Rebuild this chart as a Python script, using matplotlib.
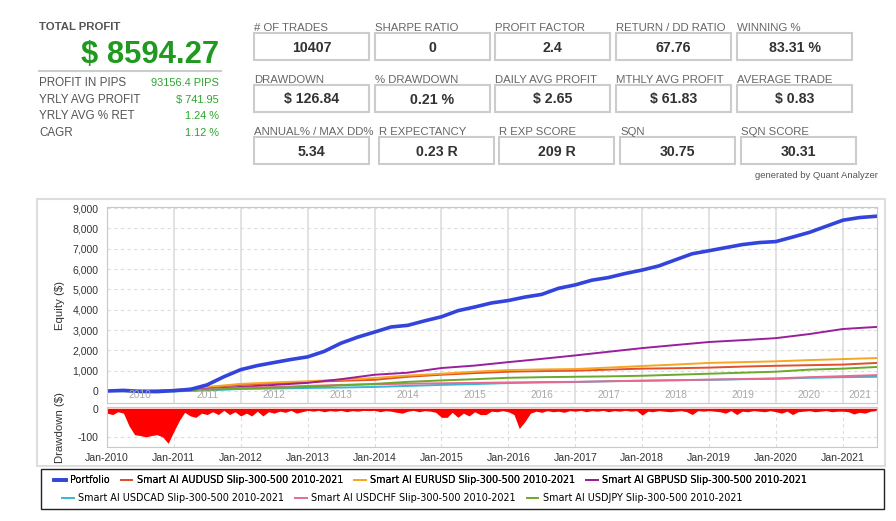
import matplotlib
matplotlib.use("Agg")
import matplotlib.pyplot as plt
from matplotlib.patches import Rectangle
from matplotlib.lines import Line2D
import pandas as pd

W, H = 896, 521
plt.rcParams['font.family'] = ['Liberation Sans', 'DejaVu Sans']

# ---- statistics ----
total_profit = "$ 8594.27"
summary_labels = ["PROFIT IN PIPS", "YRLY AVG PROFIT", "YRLY AVG % RET", "CAGR"]
summary_values = ["93156.4 PIPS", "$ 741.95", "1.24 %", "1.12 %"]

stat_labels = [
    ["# OF TRADES", "SHARPE RATIO", "PROFIT FACTOR", "RETURN / DD RATIO", "WINNING %"],
    ["DRAWDOWN", "% DRAWDOWN", "DAILY AVG PROFIT", "MTHLY AVG PROFIT", "AVERAGE TRADE"],
    ["ANNUAL% / MAX DD%", "R EXPECTANCY", "R EXP SCORE", "SQN", "SQN SCORE"],
]
stat_values = [
    ["10407", "0", "2.4", "67.76", "83.31 %"],
    ["$ 126.84", "0.21 %", "$ 2.65", "$ 61.83", "$ 0.83"],
    ["5.34", "0.23 R", "209 R", "30.75", "30.31"],
]

# ---- equity curves ----
quarters = pd.date_range("2010-01-01", "2021-07-01", freq="QS")
portfolio = [0, 30, -20, -30,
             20, 80, 300, 700,
             1050, 1250, 1400, 1550,
             1680, 1950, 2350, 2650,
             2900, 3150, 3230, 3450,
             3650, 3950, 4130, 4330,
             4450, 4620, 4750, 5050,
             5220, 5450, 5580, 5780,
             5950, 6150, 6450, 6750,
             6900, 7050, 7200, 7300,
             7350, 7570, 7800, 8100,
             8400, 8530, 8594]

halfyears = pd.date_range("2010-01-01", "2021-07-01", freq="6MS")
audusd = [0, 0, 20, 180, 300, 380, 450, 500, 550, 700, 800, 880,
          950, 980, 1000, 1050, 1100, 1120, 1150, 1200, 1240, 1270, 1300, 1380]
eurusd = [0, -10, 50, 200, 350, 420, 480, 560, 640, 760, 850, 950,
          1030, 1060, 1080, 1150, 1230, 1300, 1380, 1420, 1460, 1520, 1570, 1620]
gbpusd = [0, 10, 20, 100, 200, 300, 400, 580, 800, 900, 1130, 1250,
          1420, 1580, 1750, 1930, 2110, 2260, 2410, 2500, 2600, 2800, 3050, 3150]
usdcad = [0, -10, -20, 30, 100, 120, 150, 170, 200, 250, 300, 340,
          390, 420, 440, 480, 510, 530, 550, 580, 600, 650, 680, 700]
usdchf = [0, 10, 0, 80, 150, 200, 250, 300, 330, 360, 380, 400,
          420, 440, 450, 480, 500, 530, 560, 590, 620, 680, 730, 780]
usdjpy = [0, -20, -10, 60, 120, 160, 200, 280, 350, 450, 520, 580,
          650, 680, 700, 720, 750, 800, 850, 900, 950, 1050, 1100, 1180]

series_names = ["Portfolio",
                "Smart AI AUDUSD Slip-300-500 2010-2021",
                "Smart AI EURUSD Slip-300-500 2010-2021",
                "Smart AI GBPUSD Slip-300-500 2010-2021",
                "Smart AI USDCAD Slip-300-500 2010-2021",
                "Smart AI USDCHF Slip-300-500 2010-2021",
                "Smart AI USDJPY Slip-300-500 2010-2021"]
series_colors = ["#3344dd", "#e0502e", "#f5a623", "#9b1f9b", "#35b8d8", "#e8698f", "#6aaa2a"]

# ---- monthly drawdown ----
months = pd.date_range("2010-01-01", "2021-07-01", freq="MS")
drawdown = [-15, -20, -10, -15, -60, -92, -95, -100, -95, -92, -100, -123,
            -80, -40, -12, -25, -30, -15, -20, -10, -20, -5, -20, -10,
            -25, -15, -25, -8, -25, -10, -15, -8, -12, -5, -15, -10,
            -5, -8, -5, -10, -6, -8, -5, -10, -6, -8, -5, -6,
            -5, -10, -6, -8, -12, -15, -8, -5, -10, -6, -8, -12,
            -30, -30, -12, -30, -15, -25, -10, -20, -20, -8, -10, -6,
            -10, -20, -70, -45, -15, -8, -12, -6, -10, -8, -12, -6,
            -8, -5, -10, -6, -8, -5, -10, -6, -8, -5, -8, -6,
            -22, -8, -10, -6, -8, -10, -8, -6, -10, -20, -6, -8,
            -6, -8, -10, -15, -6, -20, -8, -10, -6, -8, -10, -6,
            -10, -15, -8, -20, -10, -8, -6, -10, -8, -6, -10, -8,
            -8, -10, -18, -12, -15, -8, -6]


def fx(x):
    return x / W


def fy(y):
    return 1 - y / H


fig = plt.figure(figsize=(W / 100, H / 100), dpi=100)

# ---- header: total profit block ----
fig.text(fx(39), fy(27), "TOTAL PROFIT", fontsize=8.2, fontweight="bold", color="#555555", va="center")
fig.text(fx(219), fy(55), total_profit, fontsize=22.3, fontweight="bold", color="#1f9a1f",
         ha="right", va="center")
fig.add_artist(Line2D([fx(39), fx(221)], [fy(71), fy(71)], color="#cccccc", lw=1.5))
for i, (lab, val) in enumerate(zip(summary_labels, summary_values)):
    yy = 83 + i * 16.7
    fig.text(fx(39), fy(yy), lab, fontsize=8.4, color="#555555", va="center")
    fig.text(fx(219), fy(yy), val, fontsize=7.9, color="#2aa52a", ha="right", va="center")

# ---- header: stat boxes ----
box_x = [[254, 375, 495, 616, 737], [254, 375, 495, 616, 737], [254, 379, 499, 620, 741]]
box_top = [33, 85, 137]
label_y = [28, 80, 132]
box_w, box_h = 115, 27
for r in range(3):
    for c in range(5):
        x0 = box_x[r][c]
        fig.text(fx(x0), fy(label_y[r]), stat_labels[r][c], fontsize=8.2, color="#666666", va="center")
        fig.add_artist(Rectangle((fx(x0), fy(box_top[r] + box_h)), box_w / W, box_h / H,
                                 transform=fig.transFigure, fill=False, ec="#cccccc", lw=1.5))
        fig.text(fx(x0 + box_w / 2), fy(box_top[r] + box_h / 2 + 1), stat_values[r][c],
                 fontsize=10.2, fontweight="bold", color="#333333", ha="center", va="center")
fig.text(fx(878), fy(175), "generated by Quant Analyzer", fontsize=6.8, color="#555555",
         ha="right", va="center")

# ---- chart panel border ----
fig.add_artist(Rectangle((fx(37), fy(466)), 848 / W, 267 / H, transform=fig.transFigure,
                         fill=False, ec="#dddddd", lw=1.5))

xmin = pd.Timestamp("2010-01-01")
xmax = pd.Timestamp("2021-07-06")
years = pd.date_range("2010-01-01", "2021-01-01", freq="YS")

# ---- equity axes ----
ax = fig.add_axes([fx(107), fy(403), 770 / W, 196 / H])
ax.plot(halfyears, audusd, color=series_colors[1], lw=1.4)
ax.plot(halfyears, eurusd, color=series_colors[2], lw=1.4)
ax.plot(halfyears, gbpusd, color=series_colors[3], lw=1.4)
ax.plot(halfyears, usdcad, color=series_colors[4], lw=1.4)
ax.plot(halfyears, usdchf, color=series_colors[5], lw=1.4)
ax.plot(halfyears, usdjpy, color=series_colors[6], lw=1.4)
ax.plot(quarters, portfolio, color=series_colors[0], lw=2.6)
ax.set_xlim(xmin, xmax)
ax.set_ylim(-590, 9050)
ax.set_yticks(range(0, 9001, 1000))
ax.set_yticklabels([f"{v:,}" for v in range(0, 9001, 1000)])
ax.set_xticks(years[1:])
ax.set_xticklabels([])
ax.tick_params(length=0, labelsize=7.6, labelcolor="#333333", pad=6)
ax.grid(axis="y", color="#dddddd", ls=(0, (3, 3)), lw=0.8)
ax.grid(axis="x", color="#dddddd", ls="-", lw=1.2)
ax.set_axisbelow(True)
for s in ax.spines.values():
    s.set_color("#c8c8c8")
for i, yr in enumerate(years):
    end = years[i + 1] if i + 1 < len(years) else xmax
    mid = yr + (end - yr) / 2
    ax.text(mid, 0.04, str(yr.year), transform=ax.get_xaxis_transform(), ha="center",
            va="center", fontsize=7.4, color="#aaaaaa")
fig.text(fx(60), fy(305), "Equity ($)", rotation=90, fontsize=8.2, color="#333333",
         ha="center", va="center")

# ---- drawdown axes ----
ax2 = fig.add_axes([fx(107), fy(447), 770 / W, 40 / H])
ax2.fill_between(months, drawdown, 0, color="#ff0000", lw=0)
ax2.axhline(0, color="#ff0000", lw=1)
ax2.set_xlim(xmin, xmax)
ax2.set_ylim(-136, 7)
ax2.set_yticks([0, -100])
ax2.set_yticklabels(["0", "-100"])
ax2.set_xticks(years)
ax2.set_xticklabels([f"Jan-{y.year}" for y in years])
ax2.tick_params(length=0, labelsize=7.6, labelcolor="#333333", pad=6)
ax2.tick_params(axis="x", pad=4)
ax2.grid(color="#dddddd", ls=(0, (3, 3)), lw=0.8)
ax2.set_axisbelow(True)
for s in ax2.spines.values():
    s.set_color("#c8c8c8")
fig.text(fx(60), fy(428), "Drawdown ($)", rotation=90, fontsize=8.2, color="#333333",
         ha="center", va="center")

# ---- legend ----
fig.add_artist(Rectangle((fx(41), fy(509)), 843 / W, 40 / H, transform=fig.transFigure,
                         fill=False, ec="#222222", lw=1))
handles = [Line2D([], [], color=c, lw=(2.6 if i == 0 else 1.4)) for i, c in enumerate(series_colors)]
leg_font = {"family": "DejaVu Sans", "size": 6.95}
leg1 = fig.legend(handles[:4], series_names[:4], loc="center left", bbox_to_anchor=(fx(54), fy(480)),
                  ncol=4, frameon=False, handlelength=1.2, handletextpad=0.45,
                  columnspacing=1.15, borderpad=0, borderaxespad=0, prop=leg_font)
leg2 = fig.legend(handles[4:], series_names[4:], loc="center left", bbox_to_anchor=(fx(62), fy(498)),
                  ncol=3, frameon=False, handlelength=1.2, handletextpad=0.45,
                  columnspacing=1.15, borderpad=0, borderaxespad=0, prop=leg_font)
fig.add_artist(leg1)

fig.savefig("out.png", dpi=100)
